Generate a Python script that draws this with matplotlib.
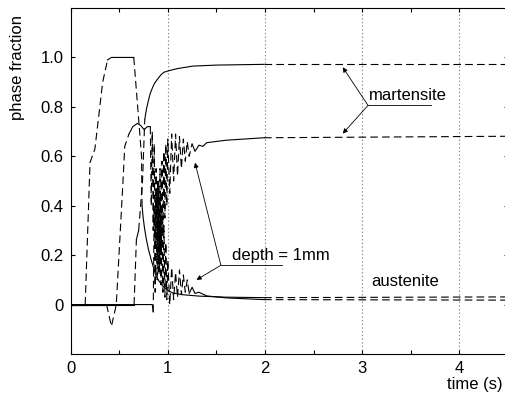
import matplotlib
matplotlib.use("Agg")
import matplotlib.pyplot as plt
import numpy as np

plt.rcParams['font.family'] = ['Liberation Sans', 'DejaVu Sans']
plt.rcParams['font.size'] = 12
plt.rcParams['lines.scale_dashes'] = False

# austenite, surface
aus_s_t = [0, 0.15, 0.20, 0.25, 0.33, 0.38, 0.42, 0.65, 0.73, 0.735, 0.745, 0.76, 0.78, 0.80,
           0.83, 0.86, 0.88, 0.91, 0.95, 1.00, 1.05, 1.15, 1.33, 1.60, 1.99, 4.5]
aus_s_v = [0, 0, 0.575, 0.63, 0.90, 0.99, 1.0, 1.0, 0.60, 0.40, 0.357, 0.31, 0.263, 0.225,
           0.18, 0.14, 0.115, 0.095, 0.074, 0.058, 0.047, 0.040, 0.034, 0.030, 0.028, 0.031]

# martensite, surface
mar_s_t = [0, 0.653, 0.677, 0.70, 0.74, 0.763, 0.78, 0.80, 0.82, 0.845, 0.866, 0.90, 0.93,
           0.96, 1.00, 1.10, 1.26, 1.50, 1.99, 4.5]
mar_s_v = [0, 0, 0.263, 0.30, 0.50, 0.749, 0.79, 0.825, 0.855, 0.88, 0.897, 0.915, 0.93,
           0.94, 0.945, 0.955, 0.965, 0.969, 0.972, 0.972]

# austenite, depth = 1mm
aus_d_t = [0, 0.37, 0.42, 0.47, 0.54, 0.557, 0.60, 0.64, 0.687, 0.72, 0.756, 0.79, 0.81,
           0.82, 0.83, 0.84, 0.85, 0.86, 0.87, 0.88, 0.89, 0.90, 0.91, 0.92, 0.93, 0.94,
           0.95, 0.96, 0.97, 0.98, 0.99, 1.00, 1.02, 1.04, 1.06, 1.08, 1.10, 1.12, 1.14,
           1.16, 1.18, 1.20, 1.22, 1.25, 1.28, 1.32, 1.40, 1.60, 1.99, 4.5]
aus_d_v = [0, 0, -0.088, 0, 0.506, 0.64, 0.69, 0.72, 0.733, 0.725, 0.708, 0.72, 0.72,
           0.72, 0.40, 0.70, 0.30, 0.65, 0.25, 0.55, 0.18, 0.50, 0.12, 0.45, 0.08, 0.40,
           0.05, 0.32, 0.03, 0.25, 0.02, 0.18, 0.0, 0.15, 0.02, 0.13, 0.03, 0.14, 0.04,
           0.12, 0.05, 0.10, 0.045, 0.07, 0.045, 0.05, 0.035, 0.027, 0.02, 0.018]

# martensite, depth = 1mm
mar_d_t = [0, 0.84, 0.85, 0.86, 0.87, 0.88, 0.89, 0.90, 0.91, 0.92, 0.93, 0.94, 0.95,
           0.96, 0.97, 0.98, 0.99, 1.00, 1.02, 1.04, 1.06, 1.08, 1.10, 1.12, 1.14, 1.16,
           1.18, 1.20, 1.22, 1.25, 1.28, 1.32, 1.36, 1.40, 1.60, 1.99, 4.5]
mar_d_v = [0, 0, -0.03, 0.40, 0.05, 0.45, 0.10, 0.50, 0.15, 0.55, 0.20, 0.58, 0.28,
           0.62, 0.35, 0.65, 0.40, 0.67, 0.45, 0.69, 0.50, 0.69, 0.52, 0.68, 0.55, 0.67,
           0.58, 0.66, 0.60, 0.65, 0.62, 0.645, 0.64, 0.655, 0.665, 0.675, 0.681]

xticks = [0, 1, 2, 3, 4]
yticks = [0, 0.2, 0.4, 0.6, 0.8, 1.0]
ytick_labels = ['0', '0.2', '0.4', '0.6', '0.8', '1.0']

fig = plt.figure(figsize=(5.05, 3.95), dpi=100)
ax = fig.add_axes([70.6 / 505, 1 - 354 / 395, (508 - 70.6) / 505, 346 / 395])
ax.set_xlim(0, 4.5)
ax.set_ylim(-0.2, 1.2)

for x in xticks[1:]:
    ax.axvline(x, color='#888888', lw=0.8, ls=':', zorder=1)


def draw(t, v):
    # long steep segments (and everything after t=2) dashed, rest solid
    t = np.asarray(t, float)
    v = np.asarray(v, float)
    px = ax.transData.transform(np.column_stack([t, v]))
    styles = []
    for i in range(len(t) - 1):
        dx, dy = px[i + 1] - px[i]
        ln = np.hypot(dx, dy)
        dashed = t[i] >= 1.98 or (ln > 12.5 and abs(dy) > 3)
        styles.append(dashed)
    start = 0
    for i in range(1, len(styles) + 1):
        if i == len(styles) or styles[i] != styles[start]:
            ls = (0, (5.5, 3)) if styles[start] else '-'
            ax.plot(t[start:i + 1], v[start:i + 1], color='black', lw=0.8, ls=ls, zorder=3)
            start = i


draw(aus_s_t, aus_s_v)
draw(mar_s_t, mar_s_v)
draw(aus_d_t, aus_d_v)
draw(mar_d_t, mar_d_v)

ax.set_xticks(xticks)
ax.set_xticks(np.arange(0.5, 4.6, 1.0), minor=True)
ax.set_yticks(yticks)
ax.set_yticklabels(ytick_labels)
ax.tick_params(which='both', direction='in', length=3, width=0.8, top=True, right=True)
ax.tick_params(axis='x', pad=5)
ax.tick_params(axis='y', pad=5)
for s in ax.spines.values():
    s.set_linewidth(0.8)

arrow = dict(arrowstyle='-|>', color='black', lw=0.6, mutation_scale=7, shrinkA=0, shrinkB=0)

# martensite label
ax.annotate('', xy=(2.80, 0.96), xytext=(3.06, 0.806), arrowprops=arrow)
ax.annotate('', xy=(2.80, 0.692), xytext=(3.06, 0.806), arrowprops=arrow)
ax.plot([3.06, 3.71], [0.806, 0.806], color='black', lw=0.6)
ax.text(3.07, 0.815, 'martensite', ha='left', va='bottom')

# depth label
ax.annotate('', xy=(1.28, 0.574), xytext=(1.546, 0.159), arrowprops=arrow)
ax.annotate('', xy=(1.295, 0.10), xytext=(1.546, 0.159), arrowprops=arrow)
ax.plot([1.546, 2.18], [0.159, 0.159], color='black', lw=0.6)
ax.text(1.657, 0.168, 'depth = 1mm', ha='left', va='bottom')

ax.text(3.09, 0.094, 'austenite', ha='left', va='center')

fig.text(503 / 505, 1 - 385 / 395, 'time (s)', ha='right', va='center')
fig.text(18 / 505, 1 - 67 / 395, 'phase fraction', rotation=90, ha='center', va='center')

fig.savefig('out.png', dpi=100)
